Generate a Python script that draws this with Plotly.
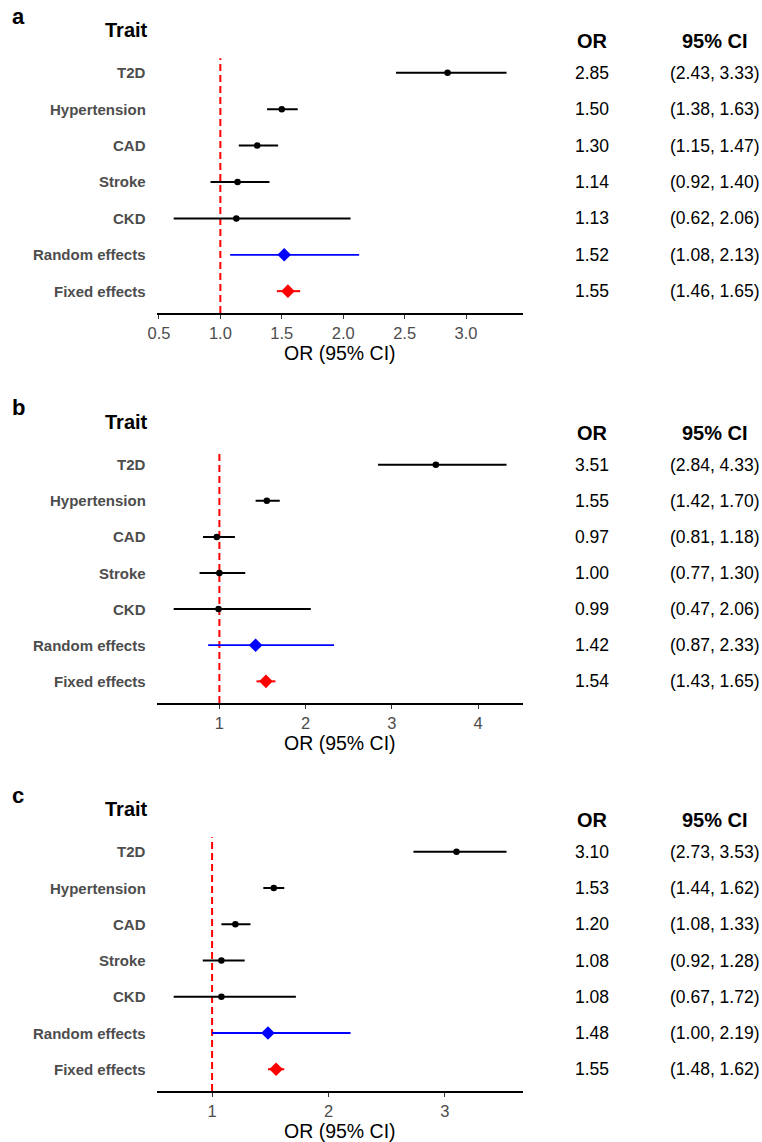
import plotly.graph_objects as go

W, H = 762, 1142

traits = ["T2D", "Hypertension", "CAD", "Stroke", "CKD", "Random effects", "Fixed effects"]
row_pos = [7, 6, 5, 4, 3, 2, 1]

or_a = [2.85, 1.50, 1.30, 1.14, 1.13, 1.52, 1.55]
lo_a = [2.43, 1.38, 1.15, 0.92, 0.62, 1.08, 1.46]
hi_a = [3.33, 1.63, 1.47, 1.40, 2.06, 2.13, 1.65]

or_b = [3.51, 1.55, 0.97, 1.00, 0.99, 1.42, 1.54]
lo_b = [2.84, 1.42, 0.81, 0.77, 0.47, 0.87, 1.43]
hi_b = [4.33, 1.70, 1.18, 1.30, 2.06, 2.33, 1.65]

or_c = [3.10, 1.53, 1.20, 1.08, 1.08, 1.48, 1.55]
lo_c = [2.73, 1.44, 1.08, 0.92, 0.67, 1.00, 1.48]
hi_c = [3.53, 1.62, 1.33, 1.28, 1.72, 2.19, 1.62]

ticks_a = [0.5, 1.0, 1.5, 2.0, 2.5, 3.0]
ticklabels_a = ["0.5", "1.0", "1.5", "2.0", "2.5", "3.0"]
ticks_b = [1, 2, 3, 4]
ticklabels_b = ["1", "2", "3", "4"]
ticks_c = [1, 2, 3]
ticklabels_c = ["1", "2", "3"]

panels = [
    dict(letter="a", OR=or_a, lo=lo_a, hi=hi_a, ticks=ticks_a, tlabels=ticklabels_a, top=51, bottom=313),
    dict(letter="b", OR=or_b, lo=lo_b, hi=hi_b, ticks=ticks_b, tlabels=ticklabels_b, top=443, bottom=703),
    dict(letter="c", OR=or_c, lo=lo_c, hi=hi_c, ticks=ticks_c, tlabels=ticklabels_c, top=830, bottom=1091),
]

FONT = "Liberation Sans, Arial, sans-serif"
X_LEFT, X_RIGHT = 149, 520
OR_X, CI_X, LABEL_X = 590, 714, 140


def px(x):
    return x / W


def py(y):
    return 1 - y / H


fig = go.Figure()
annotations = []
shapes = []
layout_axes = {}

groups = [
    (slice(0, 5), "black", "circle", 6.5, 2.0),
    (slice(5, 6), "#0000FF", "diamond", 10.5, 1.8),
    (slice(6, 7), "#FF0000", "diamond", 10.5, 2.0),
]

for i, p in enumerate(panels):
    n = "" if i == 0 else str(i + 1)
    xa, ya = "x" + n, "y" + n
    OR, lo, hi = p["OR"], p["lo"], p["hi"]
    w = max(hi) - min(lo)
    xr = [min(lo) - 0.05 * w, max(hi) + 0.05 * w]

    for sl, col, sym, size, lw in groups:
        o = OR[sl]
        fig.add_trace(go.Scatter(
            x=o, y=row_pos[sl], xaxis=xa, yaxis=ya, mode="markers",
            marker=dict(color=col, symbol=sym, size=size, line=dict(width=0)),
            error_x=dict(type="data", symmetric=False,
                         array=[h - v for h, v in zip(hi[sl], o)],
                         arrayminus=[v - l for v, l in zip(o, lo[sl])],
                         color=col, thickness=lw, width=0),
            showlegend=False, hoverinfo="skip",
        ))

    layout_axes["xaxis" + n] = dict(
        domain=[px(X_LEFT), px(X_RIGHT)], anchor=ya, range=xr,
        showgrid=False, zeroline=False, showline=True, linecolor="black", linewidth=1.6,
        ticks="outside", ticklen=4, tickwidth=1, tickcolor="#333333",
        tickvals=p["ticks"], ticktext=p["tlabels"],
        tickfont=dict(family=FONT, size=16.5, color="#4D4D4D"),
    )
    layout_axes["yaxis" + n] = dict(
        domain=[py(p["bottom"]), py(p["top"])], anchor=xa, range=[0.4, 7.6],
        showgrid=False, zeroline=False, showline=False, showticklabels=False, ticks="",
    )

    # reference line at OR = 1
    shapes.append(dict(type="line", xref=xa, yref=ya, x0=1, x1=1, y0=0.4, y1=7.4,
                       line=dict(color="#FF0000", width=2, dash="7px,4px"), layer="below"))

    # trait labels
    for t, r in zip(traits, row_pos):
        annotations.append(dict(x=px(LABEL_X), y=r, xref="paper", yref=ya, text="<b>%s</b>" % t,
                                xanchor="right", yanchor="middle", showarrow=False,
                                font=dict(family=FONT, size=15, color="#4D4D4D")))
    # OR and CI columns
    for o, l, h, r in zip(OR, lo, hi, row_pos):
        annotations.append(dict(x=px(OR_X), y=r, xref="paper", yref=ya, text="%.2f" % o,
                                xanchor="center", yanchor="middle", showarrow=False,
                                font=dict(family=FONT, size=17.5, color="black")))
        annotations.append(dict(x=px(CI_X), y=r, xref="paper", yref=ya,
                                text="(%.2f, %.2f)" % (l, h),
                                xanchor="center", yanchor="middle", showarrow=False,
                                font=dict(family=FONT, size=17.5, color="black")))
    top = p["top"]
    # headers
    annotations.append(dict(x=px(LABEL_X + 2), y=py(top - 21), xref="paper", yref="paper",
                            text="<b>Trait</b>", xanchor="right", yanchor="middle", showarrow=False,
                            font=dict(family=FONT, size=20, color="black")))
    annotations.append(dict(x=px(OR_X), y=py(top - 10), xref="paper", yref="paper",
                            text="<b>OR</b>", xanchor="center", yanchor="middle", showarrow=False,
                            font=dict(family=FONT, size=20, color="black")))
    annotations.append(dict(x=px(CI_X), y=py(top - 10), xref="paper", yref="paper",
                            text="<b>95% CI</b>", xanchor="center", yanchor="middle", showarrow=False,
                            font=dict(family=FONT, size=20, color="black")))
    # panel letter
    annotations.append(dict(x=0, y=py(top - 35), xref="paper", yref="paper",
                            text="<b>%s</b>" % p["letter"], xanchor="left", yanchor="middle",
                            showarrow=False, font=dict(family=FONT, size=22, color="black")))
    # x axis title
    annotations.append(dict(x=px((X_LEFT + X_RIGHT) / 2), y=py(p["bottom"] + 40), xref="paper",
                            yref="paper", text="OR (95% CI)", xanchor="center", yanchor="middle",
                            showarrow=False, font=dict(family=FONT, size=19.5, color="black")))

fig.update_layout(
    width=W, height=H, margin=dict(l=0, r=0, t=0, b=0),
    paper_bgcolor="white", plot_bgcolor="white",
    annotations=annotations, shapes=shapes, **layout_axes,
)

fig.write_html("out.html", config={"displayModeBar": False},
               post_script="document.body.style.margin='0';document.body.style.overflow='hidden';")
